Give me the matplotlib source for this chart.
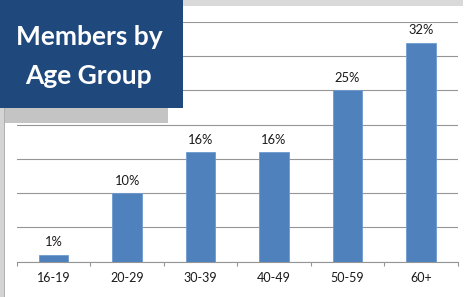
import matplotlib
matplotlib.use('Agg')
import matplotlib.pyplot as plt
from matplotlib.patches import Rectangle

# chart data
age_groups = ['16-19', '20-29', '30-39', '40-49', '50-59', '60+']
share_pct = [1, 10, 16, 16, 25, 32]
title_lines = ['Members by', 'Age Group']

BAR_COLOR = '#4F81BD'
GRID_COLOR = '#959595'
BOX_COLOR = '#1F497D'
W, H = 467, 297

plt.rcParams['font.family'] = ['Lato', 'DejaVu Sans']

fig = plt.figure(figsize=(W / 100, H / 100), dpi=100)
fig.patch.set_facecolor('white')

# plot area in pixel terms converted to figure fractions
left, right = 17 / W, 457.7 / W
bottom, top = (H - 261.5) / H, (H - 22) / H
ax = fig.add_axes([left, bottom, right - left, top - bottom])

x = list(range(len(age_groups)))
ax.bar(x, share_pct, width=0.4, color=BAR_COLOR, edgecolor='#6F9AD0', linewidth=0.6, zorder=3)
for xi, v in zip(x, share_pct):
    ax.annotate('%d%%' % v, (xi, v), xytext=(0, 4.5), textcoords='offset points',
                ha='center', va='bottom', fontsize=9.3, color='#1a1a1a')

ax.set_xlim(-0.5, len(age_groups) - 0.5)
ax.set_ylim(0, 35)
ax.set_yticks(range(0, 36, 5))
ax.yaxis.grid(True, color=GRID_COLOR, linewidth=0.8, zorder=0)
ax.tick_params(axis='y', left=False, labelleft=False)

ax.set_xticks(x)
ax.set_xticklabels(age_groups, fontsize=9, color='#1a1a1a')
ax.tick_params(axis='x', which='major', length=0, pad=7.5)
ax.set_xticks([i - 0.5 for i in range(len(age_groups) + 1)], minor=True)
ax.tick_params(axis='x', which='minor', length=3, color=GRID_COLOR, width=0.8)

for s in ['left', 'right', 'top']:
    ax.spines[s].set_visible(False)
ax.spines['bottom'].set_color(GRID_COLOR)
ax.spines['bottom'].set_linewidth(0.8)

# slide background bits around the chart
def px_rect(x0, y0, w, h, color, z=10):
    fig.patches.append(Rectangle((x0 / W, 1 - (y0 + h) / H), w / W, h / H,
                                 transform=fig.transFigure, facecolor=color,
                                 edgecolor='none', zorder=z))

px_rect(0, 0, 463, 6, '#D9D9D9')
px_rect(0, 108, 168, 15, '#C4C4C4')
px_rect(0, 0, 4, H, '#D4D4D4')
px_rect(4, 108, 1, H - 108, '#B0B0B0')
px_rect(0, 0, 183, 108, BOX_COLOR, z=11)

fig.text(89 / W, 1 - 37 / H, title_lines[0], ha='center', va='center',
         color='white', fontsize=19, fontweight='bold', zorder=12)
fig.text(88 / W, 1 - 76 / H, title_lines[1], ha='center', va='center',
         color='white', fontsize=19, fontweight='bold', zorder=12)

fig.savefig('out.png', dpi=100)
